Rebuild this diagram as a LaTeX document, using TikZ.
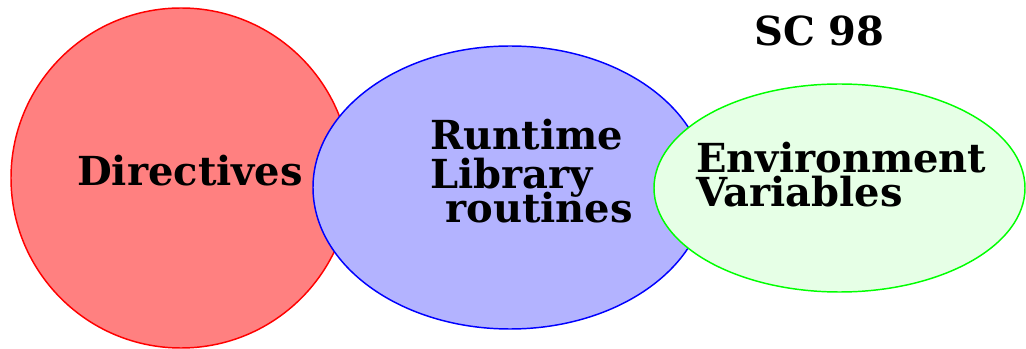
\documentclass[tikz,border=0pt]{standalone}
\usepackage{fontspec}
\setmainfont{DejaVu Serif}
\usetikzlibrary{shapes.geometric}
\definecolor{redfill}{HTML}{FF8080}
\definecolor{bluefill}{HTML}{B3B3FF}
\definecolor{greenfill}{HTML}{E6FFE6}
\definecolor{greenline}{HTML}{00FF00}
\tikzset{
  blob/.style={ellipse, inner sep=0pt, line width=1.1pt},
  lbl/.style={anchor=base west, inner sep=0pt, text height=22pt, text depth=0pt,
              font=\bfseries\fontsize{30}{30}\selectfont},
}
\begin{document}
\begin{tikzpicture}[x=0.75pt, y=-0.75pt]
  \useasboundingbox (0,0) rectangle (1026,349);
  % the three areas, each one drawn over the previous
  \node[blob, draw=red, fill=redfill, minimum width=340*0.75pt, minimum height=340*0.75pt] (dir) at (181,178) {};
  \node[blob, draw=blue, fill=bluefill, minimum width=394*0.75pt, minimum height=283*0.75pt] (rtl) at (510,187.5) {};
  \node[blob, draw=greenline, fill=greenfill, minimum width=371*0.75pt, minimum height=208*0.75pt] (env) at (839.5,188) {};
  % labels
  \node[lbl] (tdir) at (77,186) {Directives};
  \node[lbl] (trt1) at (430,150) {Runtime};
  \node[lbl] (trt2) at (430,189) {Library};
  \node[lbl] (trt3) at (445,223) {routines};
  \node[lbl] (tenv1) at (696,173) {Environment};
  \node[lbl] (tenv2) at (696,207) {Variables};
  \node[lbl] (tsc) at (754,46) {SC 98};
\end{tikzpicture}
\end{document}
